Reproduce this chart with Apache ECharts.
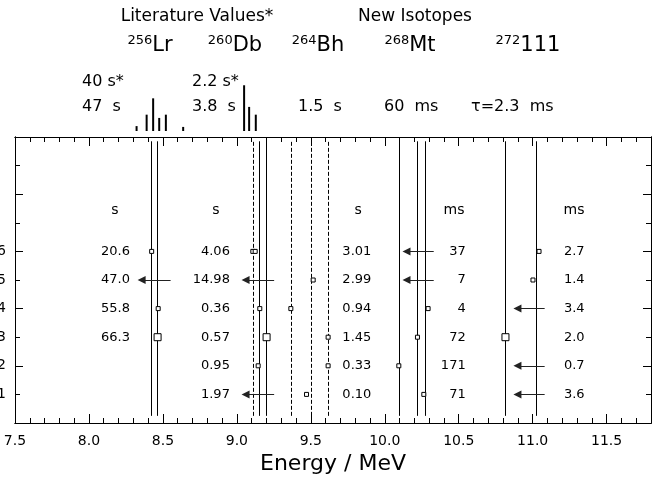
<!DOCTYPE html>
<html>
<head>
<meta charset="utf-8">
<script src="https://cdn.jsdelivr.net/npm/echarts@6/dist/echarts.min.js"></script>
<style>
  html, body { margin: 0; padding: 0; background: #fff; }
  #chart { width: 664px; height: 482px; }
</style>
</head>
<body>
<div id="chart"></div>
<script>
// ── datos ────────────────────────────────────────────────────────────────
const rangoEnergia = [7.5, 11.8];
const rangoFilas = [0, 10];
const filasVisibles = [1, 2, 3, 4, 5, 6];

// lineas verticales (MeV)
const lineasSolidas = [8.424, 8.461, 9.149, 9.196, 10.095, 10.221, 10.275, 10.816, 11.022];
const lineasPunteadas = [9.110, 9.365, 9.500, 9.617];
const alturaLineas = [0.25, 9.85];

// eventos: [energia, fila]
const marcasChicas = [
   [8.424, 6], [8.468, 4],
   [9.108, 6], [9.124, 6], [9.155, 4], [9.144, 2],
   [9.516, 5], [9.365, 4], [9.617, 3], [9.617, 2], [9.471, 1],
   [10.293, 4], [10.221, 3], [10.095, 2], [10.264, 1],
   [11.043, 6], [11.002, 5]
];
const marcasGrandes = [[8.464, 3], [9.201, 3], [10.816, 3]];

// flechas: [energia inicio, energia punta, fila]
const flechas = [
   [8.552, 8.356, 5],
   [9.252, 9.059, 5], [9.252, 9.059, 1],
   [10.331, 10.147, 6], [10.331, 10.147, 5],
   [11.081, 10.897, 4], [11.081, 10.897, 2], [11.081, 10.897, 1]
];

// columnas de tiempos
const unidades = ["s", "s", "s", "ms", "ms"];
const posUnidad = [8.176, 8.858, 9.82, 10.468, 11.28];
const posValores = [8.277, 8.953, 9.909, 10.547, 11.351];
const filaUnidad = 7.45;
const filasDesc = [6, 5, 4, 3, 2, 1];
const tiemposLr = ["20.6", "47.0", "55.8", "66.3"];
const tiemposDb = ["4.06", "14.98", "0.36", "0.57", "0.95", "1.97"];
const tiemposBh = ["3.01", "2.99", "0.94", "1.45", "0.33", "0.10"];
const tiemposMt = ["37", "7", "4", "72", "171", "71"];
const tiempos111 = ["2.7", "1.4", "3.4", "2.0", "0.7", "3.6"];
const columnas = [tiemposLr, tiemposDb, tiemposBh, tiemposMt, tiempos111];

// espectro de literatura (arriba)
const espectroE = [8.322, 8.39, 8.434, 8.475, 8.52, 8.637, 9.049, 9.083, 9.128];
const espectroCuentas = [1.2, 4, 8, 3.2, 4, 1, 11.2, 5.9, 4];

// textos superiores
const isotopos = [["256", "Lr"], ["260", "Db"], ["264", "Bh"], ["268", "Mt"], ["272", "111"]];
const vidaLiteratura = ["40 s*", "2.2 s*"];
const vidaMedida = ["47  s", "3.8  s", "1.5  s", "60  ms", "\u03c4=2.3  ms"];

// ── estilos ──────────────────────────────────────────────────────────────
const FUENTE = '"DejaVu Sans", sans-serif';
const negro = "#000";

const ejeX = (posicion, intervalo, largo, etiquetas) => ({
   type: "value",
   gridIndex: 0,
   position: posicion,
   min: rangoEnergia[0],
   max: rangoEnergia[1],
   interval: intervalo,
   axisLine: { show: true, onZero: false, lineStyle: { color: negro, width: 1 } },
   axisTick: { show: true, inside: true, length: largo, lineStyle: { color: negro, width: 1 } },
   axisLabel: etiquetas ? {
      show: true, fontSize: 14, fontFamily: FUENTE, color: negro, margin: 11,
      showMaxLabel: false,
      formatter: v => (Math.abs(v * 2 - Math.round(v * 2)) < 1e-6 ? v.toFixed(1) : "")
   } : { show: false },
   splitLine: { show: false }
});

const ejeY = (posicion, intervalo, largo, etiquetas) => ({
   type: "value",
   gridIndex: 0,
   position: posicion,
   min: rangoFilas[0],
   max: rangoFilas[1],
   interval: intervalo,
   axisLine: { show: true, onZero: false, lineStyle: { color: negro, width: 1 } },
   axisTick: { show: true, inside: true, length: largo, lineStyle: { color: negro, width: 1 } },
   axisLabel: etiquetas ? {
      show: true, fontSize: 14, fontFamily: FUENTE, color: negro, margin: 9,
      formatter: v => (filasVisibles.includes(v) ? String(v) : "")
   } : { show: false },
   splitLine: { show: false }
});

const textoSuperior = (texto, x, y, tam, alin) => ({
   type: "text",
   x: x, y: y,
   style: {
      text: texto, fontSize: tam, fontFamily: FUENTE, fill: negro,
      align: alin || "left", verticalAlign: "middle"
   }
});

const etiquetasIsotopo = () => {
   const centros = [150, 235, 318, 410, 528];
   return isotopos.map((iso, i) => ({
      type: "text",
      x: centros[i], y: 46,
      style: {
         text: `{a|${iso[0]}}{b|${iso[1]}}`,
         align: "center", verticalAlign: "middle",
         rich: {
            a: { fontSize: 13, fontFamily: FUENTE, fill: negro, lineHeight: 14, verticalAlign: "top" },
            b: { fontSize: 21, fontFamily: FUENTE, fill: negro, lineHeight: 24 }
         }
      }
   }));
};

const datosTiempos = () => {
   const lista = [];
   columnas.forEach((col, c) => {
      col.forEach((t, k) => lista.push({ name: t, value: [posValores[c], filasDesc[k]] }));
   });
   return lista;
};

const datosUnidades = () => unidades.map((u, c) => ({ name: u, value: [posUnidad[c], filaUnidad] }));

const lineaVertical = e => ({ coords: [[e, alturaLineas[0]], [e, alturaLineas[1]]] });

const serieTexto = (datos, alin, tam) => ({
   type: "scatter",
   xAxisIndex: 0, yAxisIndex: 0,
   symbolSize: 0,
   itemStyle: { opacity: 1 },
   emphasis: { disabled: true },
   label: {
      show: true, position: [0, 0], align: alin, verticalAlign: "middle",
      formatter: "{b}", fontSize: tam, fontFamily: FUENTE, color: negro, opacity: 1
   },
   data: datos
});

const opcion = {
   animation: false,
   backgroundColor: "#fff",
   textStyle: { fontFamily: FUENTE },
   grid: [
      { left: 15, right: 13, top: 137, bottom: 59, outerBoundsMode: "none" },
      { left: 15, right: 13, top: 82, height: 49, outerBoundsMode: "none" }
   ],
   xAxis: [
      ejeX("bottom", 0.1, 5, false),
      Object.assign(ejeX("bottom", 0.5, 9, true), {
         name: "Energy / MeV", nameLocation: "middle", nameGap: 30,
         nameTextStyle: { fontSize: 22, fontFamily: FUENTE, color: negro }
      }),
      ejeX("top", 0.1, 5, false),
      ejeX("top", 0.5, 9, false),
      { type: "value", gridIndex: 1, min: rangoEnergia[0], max: rangoEnergia[1], show: false }
   ],
   yAxis: [
      ejeY("left", 1, 5, true),
      ejeY("left", 2, 8, false),
      ejeY("right", 1, 5, false),
      ejeY("right", 2, 8, false),
      { type: "value", gridIndex: 1, min: 0, max: 12, show: false }
   ],
   graphic: [
      textoSuperior("Literature Values*", 197, 17, 17, "center"),
      textoSuperior("New Isotopes", 415, 17, 17, "center"),
      ...etiquetasIsotopo(),
      textoSuperior(vidaLiteratura[0], 82, 82, 16),
      textoSuperior(vidaLiteratura[1], 192, 82, 16),
      ...vidaMedida.map((t, i) => textoSuperior(t, [82, 192, 298, 384, 471][i], 107, 16))
   ],
   series: [
      {
         type: "bar",
         xAxisIndex: 4, yAxisIndex: 4,
         barWidth: 2,
         itemStyle: { color: negro },
         data: espectroE.map((e, i) => [e, espectroCuentas[i]])
      },
      {
         type: "lines",
         coordinateSystem: "cartesian2d",
         xAxisIndex: 0, yAxisIndex: 0,
         symbol: "none",
         lineStyle: { color: negro, width: 1, type: "solid", opacity: 1 },
         data: lineasSolidas.map(lineaVertical)
      },
      {
         type: "lines",
         coordinateSystem: "cartesian2d",
         xAxisIndex: 0, yAxisIndex: 0,
         symbol: "none",
         lineStyle: { color: negro, width: 1, type: [4, 2], opacity: 1 },
         data: lineasPunteadas.map(lineaVertical)
      },
      {
         type: "lines",
         coordinateSystem: "cartesian2d",
         xAxisIndex: 0, yAxisIndex: 0,
         symbol: ["none", "triangle"],
         symbolSize: 8,
         lineStyle: { color: "#222", width: 1.2, opacity: 1 },
         itemStyle: { color: negro },
         data: flechas.map(f => ({ coords: [[f[0], f[2]], [f[1], f[2]]] }))
      },
      {
         type: "scatter",
         xAxisIndex: 0, yAxisIndex: 0,
         symbol: "rect",
         symbolSize: 4,
         itemStyle: { color: "#fff", borderColor: negro, borderWidth: 1, opacity: 1 },
         data: marcasChicas
      },
      {
         type: "scatter",
         xAxisIndex: 0, yAxisIndex: 0,
         symbol: "rect",
         symbolSize: 7,
         itemStyle: { color: "#fff", borderColor: negro, borderWidth: 1, opacity: 1 },
         data: marcasGrandes
      },
      serieTexto(datosTiempos(), "right", 13),
      serieTexto(datosUnidades(), "center", 14)
   ]
};

const grafica = echarts.init(document.getElementById("chart"), null, { renderer: "canvas" });
grafica.setOption(opcion);
</script>
</body>
</html>
